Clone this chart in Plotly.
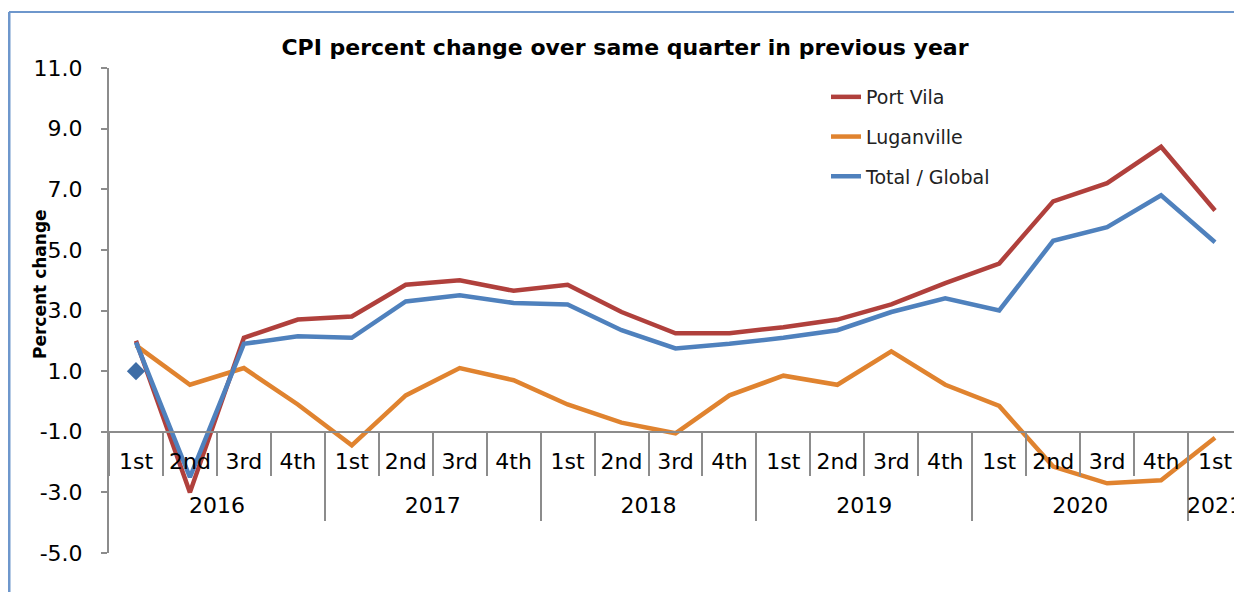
import plotly.graph_objects as go

years = ["2016"] * 4 + ["2017"] * 4 + ["2018"] * 4 + ["2019"] * 4 + ["2020"] * 4 + ["2021"]
quarters = ["1st", "2nd", "3rd", "4th"] * 5 + ["1st"]

port_vila = [2.0, -3.0, 2.1, 2.7, 2.8, 3.85, 4.0, 3.65, 3.85, 2.95, 2.25, 2.25,
             2.45, 2.7, 3.2, 3.9, 4.55, 6.6, 7.2, 8.4, 6.3]
luganville = [1.85, 0.55, 1.1, -0.1, -1.45, 0.2, 1.1, 0.7, -0.1, -0.7, -1.05, 0.2,
              0.85, 0.55, 1.65, 0.55, -0.15, -2.15, -2.7, -2.6, -1.2]
total = [1.95, -2.5, 1.9, 2.15, 2.1, 3.3, 3.5, 3.25, 3.2, 2.35, 1.75, 1.9,
         2.1, 2.35, 2.95, 3.4, 3.0, 5.3, 5.75, 6.8, 5.25]
extra_point = [1.0]

y_ticks = [11.0, 9.0, 7.0, 5.0, 3.0, 1.0, -1.0, -3.0, -5.0]

RED = "#B0403C"
ORANGE = "#E0832F"
BLUE = "#4F81BD"
AXIS = "#8C8C8C"
FONT = "DejaVu Sans"

# unique category keys (year + quarter)
cats = [f"{y} {q}" for y, q in zip(years, quarters)]

# year groups: label at centre of group, divider at group boundaries
year_names = []
for y in years:
    if y not in year_names:
        year_names.append(y)
year_centres = []
year_bounds = []
for y in year_names:
    idx = [i for i, v in enumerate(years) if v == y]
    year_centres.append((idx[0] + idx[-1]) / 2)
    if idx[0] > 0:
        year_bounds.append(idx[0] - 0.5)

# the page adds an 8px body margin, so the figure is sized/positioned to compensate
W, H = 1234, 584
L, T, B = 101, 60, 39
PW = W - L
PH = H - T - B


def px(xp):
    return (xp - L) / PW


def py(yp):
    return (H - B - yp) / PH


fig = go.Figure()
fig.add_trace(go.Scatter(x=cats, y=port_vila, mode="lines", name="Port Vila",
                         line=dict(color=RED, width=4.5), legendgroup="a"))
fig.add_trace(go.Scatter(x=cats, y=luganville, mode="lines", name="Luganville",
                         line=dict(color=ORANGE, width=4.5), legendgroup="b"))
fig.add_trace(go.Scatter(x=cats, y=total, mode="lines", name="Total / Global",
                         line=dict(color=BLUE, width=4.5), legendgroup="c"))
fig.add_trace(go.Scatter(x=cats[:1], y=extra_point, mode="markers",
                         marker=dict(symbol="diamond", size=14, color="#3E6DA6"),
                         showlegend=False, legendgroup="c"))
# empty helper trace so that the year-label axis (x2) is drawn
fig.add_trace(go.Scatter(x=year_centres, y=[None] * len(year_centres), xaxis="x2",
                         mode="lines", showlegend=False, hoverinfo="skip"))

n = len(cats)
fig.update_layout(
    width=W, height=H,
    margin=dict(l=L, r=0, t=T, b=B, pad=0),
    paper_bgcolor="white", plot_bgcolor="white",
    font=dict(family=FONT, color="black"),
    title=dict(text="<b>CPI percent change over same quarter in previous year</b>",
               x=px(617), xref="paper", xanchor="center",
               y=1 - 39 / H, yref="container", yanchor="middle",
               font=dict(size=22, family=FONT, color="black")),
    legend=dict(x=px(818), y=py(70), xanchor="left", yanchor="top",
                font=dict(size=19, family=FONT, color="#222"),
                traceorder="grouped", tracegroupgap=12, bgcolor="rgba(0,0,0,0)"),
    showlegend=True,
    xaxis=dict(type="category", range=[-0.5, n - 0.5], anchor="free", position=4 / 16,
               showgrid=False, zeroline=False, showline=True, linecolor=AXIS, linewidth=2,
               tickmode="array", tickvals=cats, ticktext=quarters, tickson="boundaries",
               ticks="outside", ticklen=43, tickcolor=AXIS, tickwidth=2,
               ticklabelstandoff=10, ticklabeloverflow="allow",
               tickfont=dict(size=22, family=FONT, color="black")),
    xaxis2=dict(type="linear", overlaying="x", anchor="free", position=4 / 16, side="bottom",
                range=[-0.5, n - 0.5], showgrid=False, zeroline=False, showline=False,
                tickmode="array", tickvals=year_centres, ticktext=year_names, ticks="",
                minor=dict(tickmode="array", tickvals=year_bounds, ticks="outside", ticklen=88,
                           tickcolor=AXIS, tickwidth=2, showgrid=False),
                ticklabelstandoff=58, ticklabeloverflow="allow",
                tickfont=dict(size=22, family=FONT, color="black")),
    yaxis=dict(range=[-5, 11], tickmode="array", tickvals=y_ticks,
               ticktext=[f"{v:.1f}" for v in y_ticks],
               showgrid=False, zeroline=False, showline=True, linecolor=AXIS, linewidth=2,
               ticks="outside", ticklen=6, tickcolor=AXIS, tickwidth=2,
               tickfont=dict(size=22, family=FONT, color="black"), ticklabelstandoff=14),
)

fig.add_annotation(text="<b>Percent change</b>", x=px(20), xref="paper", y=py(276), yref="paper",
                   showarrow=False, textangle=-90, font=dict(size=17, family=FONT, color="black"))

# chart border (left and top edges of the outer chart frame)
fig.add_shape(type="line", xref="paper", yref="paper",
              x0=px(1), x1=px(1), y0=py(4), y1=py(H + 10),
              line=dict(color="#6E97CC", width=3))
fig.add_shape(type="line", xref="paper", yref="paper",
              x0=px(1), x1=px(W + 10), y0=py(4), y1=py(4),
              line=dict(color="#6E97CC", width=2))

fig.write_html("out.html")
